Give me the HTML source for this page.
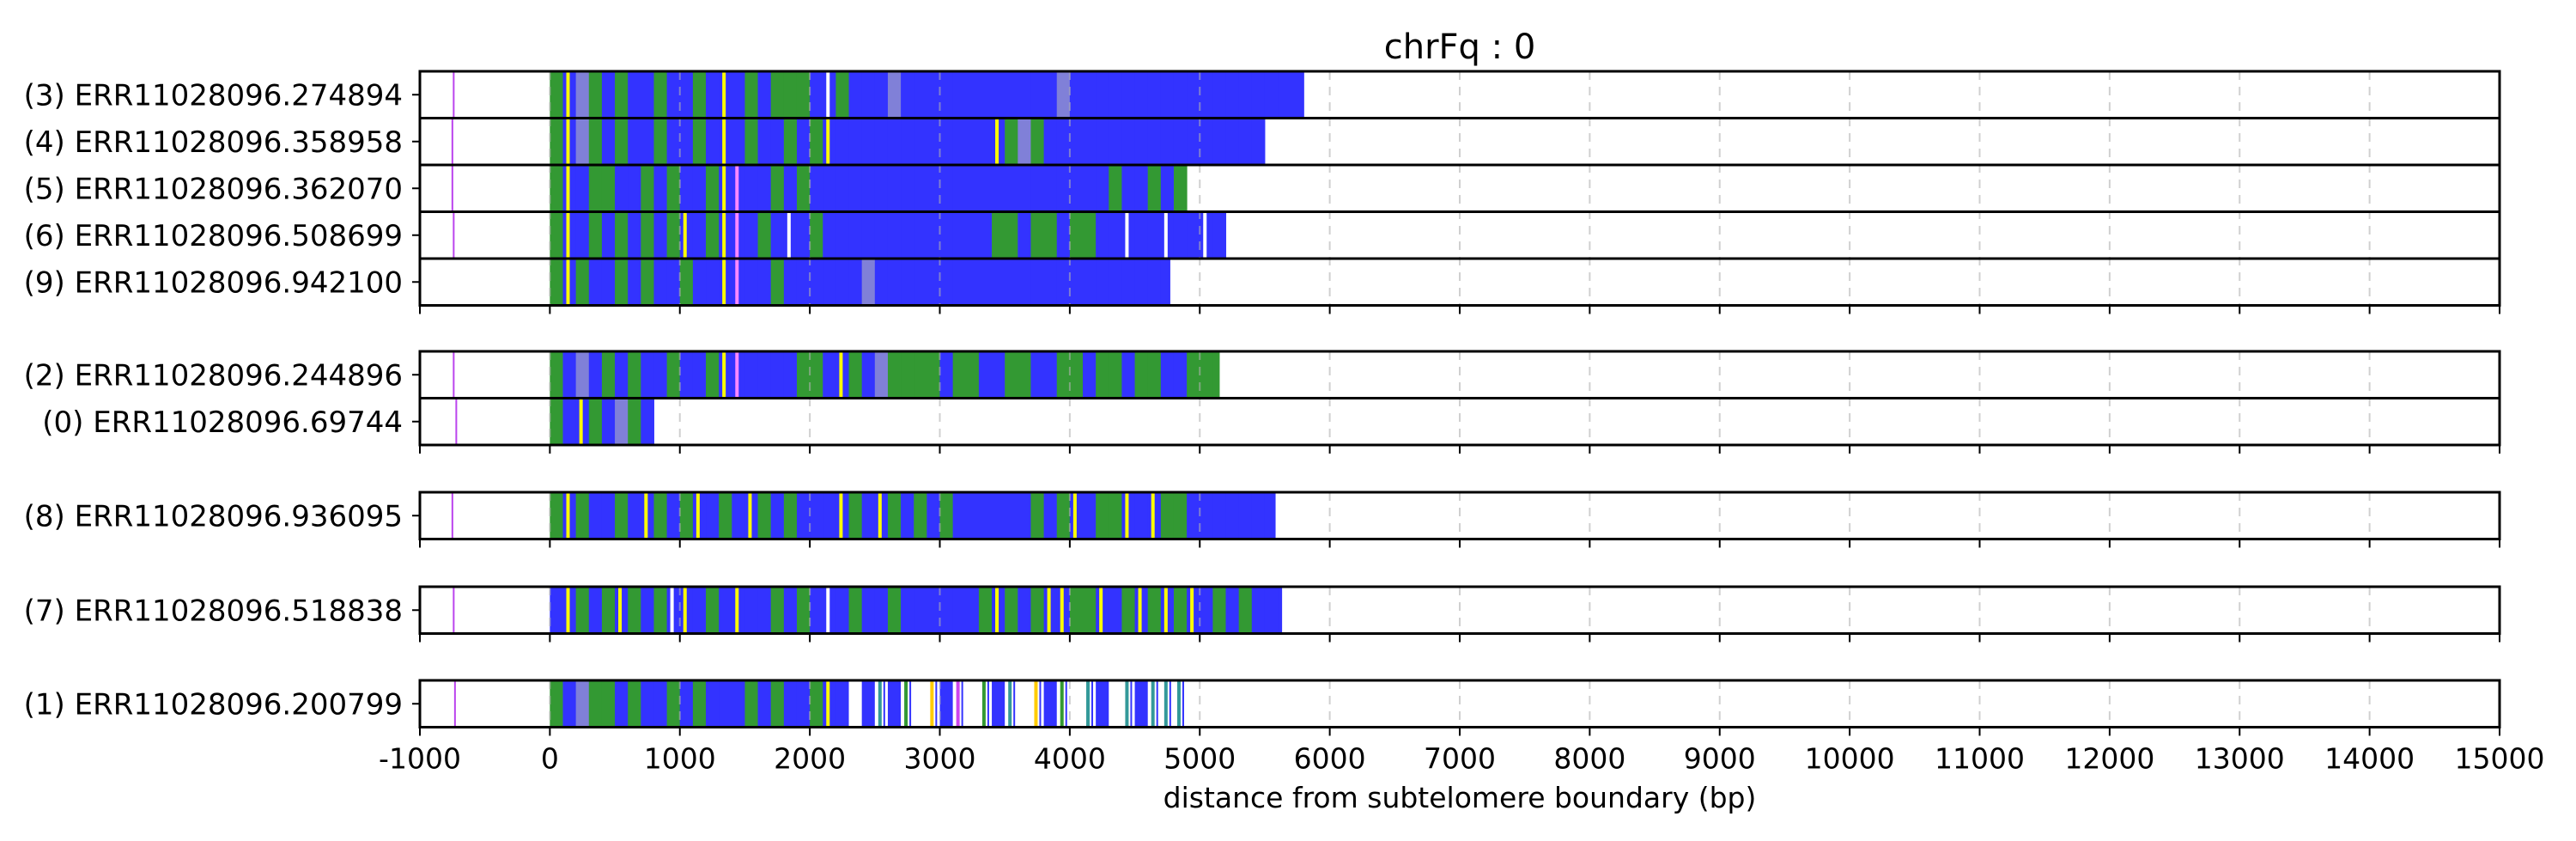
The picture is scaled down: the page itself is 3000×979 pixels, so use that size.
<!DOCTYPE html>
<html><head><meta charset="utf-8"><style>
html,body{margin:0;padding:0;background:#fff;width:3000px;height:979px;overflow:hidden}
svg{display:block;font-family:"DejaVu Sans","Liberation Sans",sans-serif}
</style></head><body>
<svg id="chart" width="3000" height="979" viewBox="0 0 3000 979" xmlns="http://www.w3.org/2000/svg">
<text x="1700" y="68" font-size="40" text-anchor="middle">chrFq : 0</text>
<text x="1700" y="940" font-size="33" text-anchor="middle">distance from subtelomere boundary (bp)</text>
</svg>
<script>
const xTicks = [-1000,0,1000,2000,3000,4000,5000,6000,7000,8000,9000,10000,11000,12000,13000,14000,15000];
const readLabels = ["(3) ERR11028096.274894","(4) ERR11028096.358958","(5) ERR11028096.362070","(6) ERR11028096.508699","(9) ERR11028096.942100","(2) ERR11028096.244896","(0) ERR11028096.69744","(8) ERR11028096.936095","(7) ERR11028096.518838","(1) ERR11028096.200799"];
const readEnds = [5800,5500,4900,5200,4770,5150,800,5580,5630,4860];
const markerPos = [-740,-750,-750,-740,null,-740,-720,-750,-740,-730];
const panelOf = [0,0,0,0,0,1,1,2,3,4];
const binSize = 100;
const readBins = [
 "GYLGBGBBGBBGBYBGBGGGBWGBBBLBBBBBBBBBBBBLBBBBBBBBBBBBBBBBBBBB",
 "GYLGBGBBGBBGBYBGBBGBGYBBBBBBBBBBBBYGLGBBBBBBBBBBBBBBBBBBBB",
 "GYBGGBBGBGBBGYPBBGBGBBBBBBBBBBBBBBBBBBBBBBBGBBGBGBBB",
 "GYBGBGBGBGYBGYPBGBWBGBBBBBBBBBBBBBGGBGGBGGBBWBBWBBWBBB",
 "GYGBBGBGBBGBBYPBBGBBBBBBLBBBBBBBBBBBBBBBBBBBBBBBBBBB",
 "GBLBGBGBBGBBGYPBBBBGGBYGBLGGGGBGGBBGGBBGGBGGBGGBBGGGG",
 "GBYGBLGBBB",
 "GYGBBGBYGBGYBGBYGBGBBBYGBYGBGBGBBBBBBGBGYBGGYBYGGBBBBBBBBBBBB",
 "BYGBGYGBGWYBGBYBBGBGBWBGBBGBBBBBBGYGBGYYGGYBGYGYGYBGBGBBBBBBBB",
 "GBLGGBGBBGBGBBBGBGBBGYBwBtBgwyBpwgBtwyBgwtBwtBtttBBBB"
];
const panelTops = [83,409,573,683,792];
const rowH = 54.5;
const X0 = 489, X1 = 2911, XMIN = -1000, XMAX = 15000;
function xs(v){ return X0 + (v - XMIN) / (XMAX - XMIN) * (X1 - X0); }
const colors = {B:"#3333ff",G:"#339933",L:"#8080d8",w:"#ffffff",t:"#ffffff",g:"#ffffff",y:"#ffffff",p:"#ffffff"};
const stripe = {Y:"#ffff00",P:"#ff88ff",W:"#ffffff",C:"#00ffff",t:"#339999",g:"#339933",y:"#ffcc00",p:"#cc44ee"};
const svg = document.getElementById('chart');
const NS = "http://www.w3.org/2000/svg";
function mk(tag, attrs){ const e=document.createElementNS(NS,tag); for(const k in attrs) e.setAttribute(k,attrs[k]); svg.appendChild(e); return e; }

const rowIndexInPanel = [];
const counts = [0,0,0,0,0];
panelOf.forEach((p,i)=>{ rowIndexInPanel[i]=counts[p]++; });

readLabels.forEach((lab,i)=>{
  const p = panelOf[i];
  const y = panelTops[p] + rowIndexInPanel[i]*rowH;
  const s = readBins[i];
  for(let b=0;b<s.length;b++){
    const a = b*binSize; if(a>=readEnds[i]) break;
    const e = Math.min(a+binSize, readEnds[i]);
    const ch = s[b];
    const base = colors[ch] || colors.B;
    const r = mk('rect',{x:xs(a),y:y,width:xs(e)-xs(a)+0.5,height:rowH,fill:base});
    
    
    if(stripe[ch]){
      const sr = mk('rect',{x:xs(a)+4,y:y,width:4,height:rowH,fill:stripe[ch]});
      
      
      if(ch===ch.toLowerCase()){
        const s2 = mk('rect',{x:xs(a)+10,y:y,width:2,height:rowH,fill:"#3333ff"});
        
        
      }
    }
  }
  if(markerPos[i]!==null){
    const m = mk('line',{x1:xs(markerPos[i]),x2:xs(markerPos[i]),y1:y,y2:y+rowH,stroke:"#bb44ee","stroke-width":2});
    
    
  }
  const t = mk('text',{x:469,y:y+rowH/2+12,"font-size":34,"text-anchor":"end"});
  t.textContent = lab;
  
  
  const tk = mk('line',{x1:X0-9,x2:X0,y1:y+rowH/2,y2:y+rowH/2,stroke:"#000","stroke-width":2});
  
  
});

for(let p=0;p<5;p++){
  const top = panelTops[p], h = counts[p]*rowH;
  xTicks.forEach(v=>{
    if(v===XMIN||v===XMAX) return;
    const g = mk('line',{x1:xs(v),x2:xs(v),y1:top,y2:top+h,stroke:"#b0b0b0","stroke-width":2,"stroke-dasharray":"10,8","stroke-opacity":0.6});
    
    
  });
  for(let r=1;r<counts[p];r++){
    const d = mk('line',{x1:X0,x2:X1,y1:top+r*rowH,y2:top+r*rowH,stroke:"#000","stroke-width":3});
    
    
  }
  const f = mk('rect',{x:X0,y:top,width:X1-X0,height:h,fill:"none",stroke:"#000","stroke-width":3});
  
  
  xTicks.forEach(v=>{
    const tk = mk('line',{x1:xs(v),x2:xs(v),y1:top+h,y2:top+h+10,stroke:"#000","stroke-width":2});
    
    
  });
}
const lastBottom = panelTops[4] + counts[4]*rowH;
xTicks.forEach(v=>{
  const t = mk('text',{x:xs(v),y:lastBottom+48,"font-size":33,"text-anchor":"middle"});
  t.textContent = String(v);
  
  
});
</script>
</body></html>
